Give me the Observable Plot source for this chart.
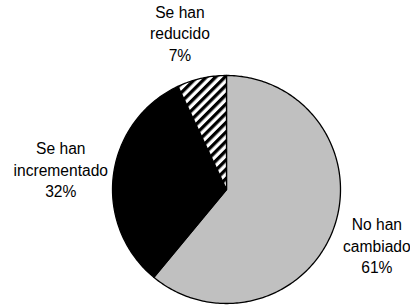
<!DOCTYPE html>
<html><head><meta charset="utf-8">
<script src="https://cdn.jsdelivr.net/npm/d3@7"></script>
<script src="https://cdn.jsdelivr.net/npm/@observablehq/plot@0.6"></script>
<style>body{margin:0;background:#fff;}</style>
</head><body><div id="chart"></div>
<script>
const categories = ["No han cambiado", "Se han incrementado", "Se han reducido"];
const values = [61, 32, 7];
const labels = ["No han\ncambiado\n61%", "Se han\nincrementado\n32%", "Se han\nreducido\n7%"];
const colors = ["#c0c0c0", "#000000", "url(#hatch)"];

const arcs = d3.pie().sort(null).value(d => d)(values);
const outline = [];
arcs.forEach((a, i) => {
  outline.push({category: categories[i], x: 0, y: 0});
  const n = Math.max(8, Math.ceil((a.endAngle - a.startAngle) * 60));
  for (let k = 0; k <= n; k++) {
    const t = a.startAngle + (a.endAngle - a.startAngle) * k / n;
    outline.push({category: categories[i], x: Math.sin(t), y: Math.cos(t)});
  }
});
const labelR = 1.43;
const labelData = arcs.map((a, i) => {
  const m = (a.startAngle + a.endAngle) / 2;
  return {category: categories[i], label: labels[i], x: labelR * Math.sin(m), y: labelR * Math.cos(m)};
});

const px = 114;
const textOpts = {x: "x", y: "y", text: "label", fontSize: 15.6, fontFamily: "Liberation Sans, Arial, sans-serif", lineHeight: 1.38, fill: "black"};
const svg = Plot.plot({
  width: 410, height: 306,
  marginLeft: 0, marginRight: 0, marginTop: 0, marginBottom: 0,
  x: {domain: [-226 / px, 184 / px], axis: null},
  y: {domain: [-117 / px, 189 / px], axis: null},
  color: {type: "ordinal", domain: categories, range: colors},
  style: {background: "white", overflow: "visible"},
  marks: [
    Plot.line(outline, {x: "x", y: "y", z: "category", fill: "category", stroke: "black", strokeWidth: 1.3, curve: "linear-closed", strokeLinejoin: "round"}),
    Plot.text(labelData.filter(d => d.category === "No han cambiado"), {...textOpts, dx: -3}),
    Plot.text(labelData.filter(d => d.category === "Se han incrementado"), {...textOpts, dx: -4}),
    Plot.text(labelData.filter(d => d.category === "Se han reducido"), {...textOpts, dx: -11, dy: 2})
  ]
});
const defs = d3.select(svg).insert("defs", ":first-child");
const pat = defs.append("pattern").attr("id", "hatch").attr("patternUnits", "userSpaceOnUse")
  .attr("width", 6.6).attr("height", 6.6).attr("patternTransform", "rotate(45)");
pat.append("rect").attr("width", 6.6).attr("height", 6.6).attr("fill", "white");
pat.append("rect").attr("width", 3.3).attr("height", 6.6).attr("fill", "black");
document.getElementById("chart").appendChild(svg);
</script>
</body></html>
